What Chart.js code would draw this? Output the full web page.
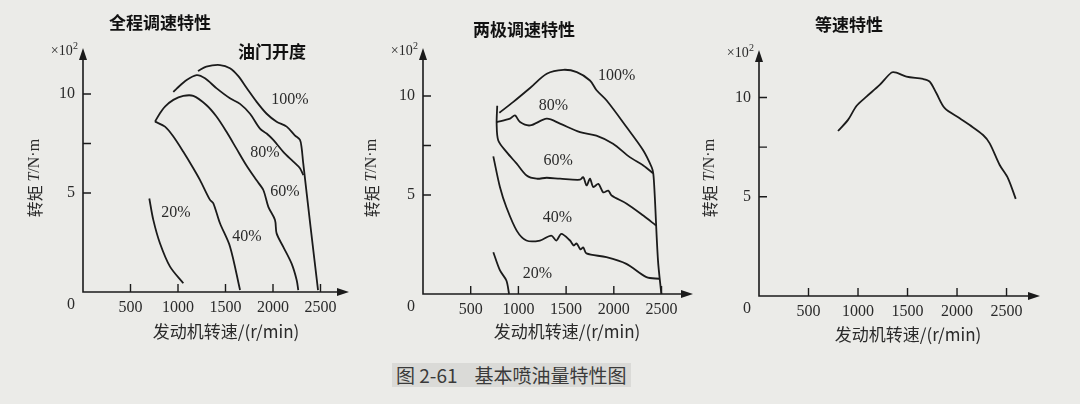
<!DOCTYPE html>
<html>
<head>
<meta charset="utf-8">
<script src="https://cdn.jsdelivr.net/npm/chart.js@4.4.1/dist/chart.umd.min.js"></script>
<style>
  body { margin: 0; width: 1080px; height: 404px; overflow: hidden; position: relative; background: #ebebe8; }
  canvas { position: absolute; top: 0; }
  #caption {
    position: absolute; left: 392px; top: 363px; padding: 0 4px;
    font: 19px "Noto Sans CJK SC"; color: #3a3a3a; background: rgba(0,0,0,0.07); line-height: 24px;
    white-space: pre;
  }
</style>
</head>
<body>
<canvas id="p1" width="360" height="360" style="left:0"></canvas>
<canvas id="p2" width="340" height="360" style="left:360px"></canvas>
<canvas id="p3" width="380" height="360" style="left:700px"></canvas>
<div id="caption">图 2-61    基本喷油量特性图</div>
<script>
// tick labels
const xTickValues = [500, 1000, 1500, 2000, 2500];
const yTickValues = [5, 10];
const yMinorTicks = [7.5];

// 全程调速特性 (panel 1)
const p1Rpm100 = [1210, 1298, 1442, 1547, 1635, 1723, 1828, 1933, 2038, 2144, 2232, 2284, 2302, 2316, 2395, 2474];
const p1Tq100  = [11.16, 11.38, 11.46, 11.3, 10.9, 10.3, 9.6, 9.0, 8.6, 8.35, 7.9, 7.68, 7.25, 6.6, 3.3, 0.1];
const p1Rpm80  = [950, 986, 1091, 1196, 1284, 1407, 1547, 1653, 1758, 1863, 1933, 2003, 2108, 2214, 2284, 2319];
const p1Tq80   = [10.1, 10.27, 10.7, 10.95, 10.79, 10.28, 9.78, 9.5, 9.0, 8.25, 8.0, 7.68, 7.08, 6.58, 6.25, 5.9];
const p1Rpm60  = [758, 807, 863, 951, 1056, 1161, 1298, 1403, 1509, 1614, 1719, 1825, 1898, 1951, 2021, 2038, 2108, 2196, 2249, 2266];
const p1Tq60   = [8.6, 9.0, 9.36, 9.7, 9.9, 9.9, 9.44, 8.87, 8.1, 7.25, 6.4, 5.65, 5.15, 4.3, 3.64, 2.96, 2.28, 1.43, 0.61, 0.1];
const p1Rpm40  = [758, 863, 951, 1056, 1161, 1232, 1337, 1372, 1442, 1547, 1653];
const p1Tq40   = [8.6, 8.35, 7.85, 7.08, 6.25, 5.65, 4.65, 4.48, 3.47, 2.3, 0.1];
const p1Rpm20  = [698, 740, 810, 916, 1056];
const p1Tq20   = [4.72, 3.64, 2.46, 1.28, 0.44];
const p1Labels = ['100%', '80%', '60%', '40%', '20%'];
const p1LabelRpm = [2179, 1916, 2126, 1726, 979];
const p1LabelTq  = [9.7, 7.02, 5.05, 2.78, 3.99];

// 两极调速特性 (panel 2)
const p2Rpm100 = [800, 947, 1122, 1297, 1471, 1612, 1750, 1817, 1925, 2135, 2309, 2397, 2414, 2428, 2463, 2498];
const p2Tq100  = [9.15, 9.7, 10.4, 11.12, 11.32, 11.2, 10.78, 10.3, 9.77, 8.42, 7.25, 6.4, 6.07, 5.06, 1.7, 0];
const p2Rpm80  = [772, 912, 964, 1017, 1122, 1297, 1436, 1646, 1817, 1992, 2167, 2309, 2411];
const p2Tq80   = [8.68, 8.85, 9.02, 8.68, 8.51, 8.85, 8.6, 8.17, 8.0, 7.59, 6.91, 6.49, 6.1];
const p2Rpm60  = [778, 772, 789, 877, 982, 1086, 1191, 1296, 1436, 1646, 1680, 1715, 1750, 1785, 1838, 1890, 1942, 1977, 2135, 2309, 2442];
const p2Tq60   = [9.5, 8.6, 7.75, 7.16, 6.58, 5.98, 5.82, 5.87, 5.82, 5.77, 5.9, 5.48, 5.82, 5.4, 5.56, 5.13, 5.22, 4.97, 4.56, 3.96, 3.46];
const p2Rpm40  = [737, 807, 874, 982, 1084, 1226, 1344, 1398, 1450, 1541, 1580, 1610, 1650, 1680, 1713, 1922, 2132, 2342, 2478];
const p2Tq40   = [6.95, 5.39, 4.38, 3.2, 2.7, 2.7, 2.95, 2.7, 3.04, 2.7, 2.45, 2.55, 2.25, 2.35, 2.05, 1.86, 1.52, 0.85, 0.77];
const p2Rpm20  = [737, 807, 874, 902];
const p2Tq20   = [2.11, 1.19, 0.68, 0];
const p2Labels = ['100%', '80%', '60%', '40%', '20%'];
const p2LabelRpm = [2030, 1366, 1418, 1410, 1200];
const p2LabelTq  = [11.0, 9.49, 6.72, 3.87, 1.02];

// 等速特性 (panel 3)
const p3Rpm = [798, 899, 984, 1085, 1219, 1337, 1388, 1489, 1657, 1724, 1792, 1876, 2027, 2128, 2263, 2330, 2431, 2515, 2593];
const p3Tq  = [8.31, 8.87, 9.57, 10.04, 10.63, 11.25, 11.25, 11.05, 10.93, 10.8, 10.21, 9.46, 8.95, 8.61, 8.11, 7.69, 6.6, 5.93, 4.89];

const ink = '#1b1b1b';
const serif = '"Liberation Serif", "DejaVu Serif", serif';
const cjk = '"Noto Sans CJK SC", sans-serif';

function pts(xs, ys) { return xs.map((v, i) => ({ x: v, y: ys[i] })); }

const deco = {
  id: 'deco',
  afterDraw(chart, args, o) {
    const { ctx, chartArea: a, scales: { x, y } } = chart;
    ctx.save();
    ctx.strokeStyle = ink; ctx.fillStyle = ink; ctx.lineWidth = 1.6;

    // axes with arrows
    ctx.beginPath();
    ctx.moveTo(a.left, a.top + 8); ctx.lineTo(a.left, a.bottom); ctx.lineTo(a.right - 8, a.bottom);
    ctx.stroke();
    ctx.beginPath();
    ctx.moveTo(a.left, a.top); ctx.lineTo(a.left - 4, a.top + 12); ctx.lineTo(a.left + 4, a.top + 12);
    ctx.closePath(); ctx.fill();
    ctx.beginPath();
    ctx.moveTo(a.right, a.bottom); ctx.lineTo(a.right - 12, a.bottom - 4); ctx.lineTo(a.right - 12, a.bottom + 4);
    ctx.closePath(); ctx.fill();

    // inward tick marks
    ctx.lineWidth = 1.4;
    ctx.beginPath();
    xTickValues.forEach(v => { const px = x.getPixelForValue(v); ctx.moveTo(px, a.bottom); ctx.lineTo(px, a.bottom - 8); });
    yTickValues.concat(yMinorTicks).forEach(v => { const py = y.getPixelForValue(v); ctx.moveTo(a.left, py); ctx.lineTo(a.left + 8, py); });
    ctx.stroke();

    // origin, unit
    ctx.font = '16px ' + serif; ctx.fillStyle = '#2a2a2a';
    ctx.textAlign = 'center'; ctx.textBaseline = 'middle';
    ctx.fillText('0', a.left - 12, a.bottom + 13);
    ctx.textAlign = 'right';
    ctx.font = '14px ' + serif;
    const w2 = ctx.measureText('2').width;
    ctx.fillText('×10', a.left - 5 - w2 * 0.75, a.top + 3);
    ctx.font = '10px ' + serif;
    ctx.fillText('2', a.left - 5, a.top - 2);

    // axis titles
    ctx.font = '17px ' + cjk; ctx.textAlign = 'center';
    ctx.fillText('发动机转速/(r/min)', o.xTitle[0], o.xTitle[1]);

    ctx.save();
    ctx.translate(o.yTitle[0], o.yTitle[1]);
    ctx.rotate(-Math.PI / 2);
    const parts = [['转矩 ', '16px ' + cjk], ['T', 'italic 16px ' + serif], ['/N·m', '16px ' + serif]];
    let total = 0;
    parts.forEach(p => { ctx.font = p[1]; total += ctx.measureText(p[0]).width; });
    let cx = -total / 2;
    ctx.textAlign = 'left';
    parts.forEach(p => { ctx.font = p[1]; ctx.fillText(p[0], cx, 0); cx += ctx.measureText(p[0]).width; });
    ctx.restore();

    // panel title
    ctx.font = 'bold 17px ' + cjk; ctx.fillStyle = '#111'; ctx.textAlign = 'center';
    ctx.fillText(o.title, o.titleAt[0], o.titleAt[1]);
    if (o.note) ctx.fillText(o.note[0], o.note[1], o.note[2]);

    // curve labels
    ctx.font = '16px ' + serif; ctx.fillStyle = '#2a2a2a';
    (o.labels || []).forEach((t, i) => {
      ctx.fillText(t, x.getPixelForValue(o.labelX[i]), y.getPixelForValue(o.labelY[i]));
    });
    ctx.restore();
  }
};

function makeChart(id, lay, series, o) {
  const c = document.getElementById(id);
  return new Chart(c, {
    type: 'scatter',
    data: {
      datasets: series.map(s => ({
        data: s, showLine: true, borderColor: ink, borderWidth: 1.8,
        pointRadius: 0, tension: 0.3, fill: false, clip: false
      }))
    },
    options: {
      responsive: false, animation: false,
      layout: { padding: { left: 0, top: lay.top, right: c.width - lay.right, bottom: 0 } },
      plugins: { legend: { display: false }, tooltip: { enabled: false }, deco: o },
      scales: {
        x: {
          type: 'linear', min: 0, max: lay.xMax,
          grid: { display: false, drawTicks: false }, border: { display: false },
          afterBuildTicks: s => { s.ticks = xTickValues.map(v => ({ value: v })); },
          afterFit: s => { s.height = c.height - lay.oy; },
          ticks: { padding: 6, maxRotation: 0, autoSkip: false, color: '#2a2a2a',
                   font: { family: serif, size: 16 }, callback: v => String(v) }
        },
        y: {
          type: 'linear', min: 0, max: lay.yMax,
          grid: { display: false, drawTicks: false }, border: { display: false },
          afterBuildTicks: s => { s.ticks = yTickValues.map(v => ({ value: v })); },
          afterFit: s => { s.width = lay.ox; },
          ticks: { padding: 8, color: '#2a2a2a', font: { family: serif, size: 16 }, callback: v => String(v) }
        }
      }
    },
    plugins: [deco]
  });
}

makeChart('p1', { ox: 83, oy: 292, right: 349, top: 48, xMax: 2800, yMax: 12.32 },
  [pts(p1Rpm100, p1Tq100), pts(p1Rpm80, p1Tq80), pts(p1Rpm60, p1Tq60), pts(p1Rpm40, p1Tq40), pts(p1Rpm20, p1Tq20)],
  { title: '全程调速特性', titleAt: [160, 23], note: ['油门开度', 272, 52], xTitle: [226, 332], yTitle: [35, 178],
    labels: p1Labels, labelX: p1LabelRpm, labelY: p1LabelTq });

makeChart('p2', { ox: 63, oy: 294, right: 333, top: 48, xMax: 2830, yMax: 12.42 },
  [pts(p2Rpm100, p2Tq100), pts(p2Rpm80, p2Tq80), pts(p2Rpm60, p2Tq60), pts(p2Rpm40, p2Tq40), pts(p2Rpm20, p2Tq20)],
  { title: '两极调速特性', titleAt: [164, 30], xTitle: [207, 332], yTitle: [12, 178],
    labels: p2Labels, labelX: p2LabelRpm, labelY: p2LabelTq });

makeChart('p3', { ox: 59, oy: 296, right: 340, top: 50, xMax: 2838, yMax: 12.39 },
  [pts(p3Rpm, p3Tq)],
  { title: '等速特性', titleAt: [149, 25], xTitle: [208, 335], yTitle: [10, 178] });
</script>
</body>
</html>
